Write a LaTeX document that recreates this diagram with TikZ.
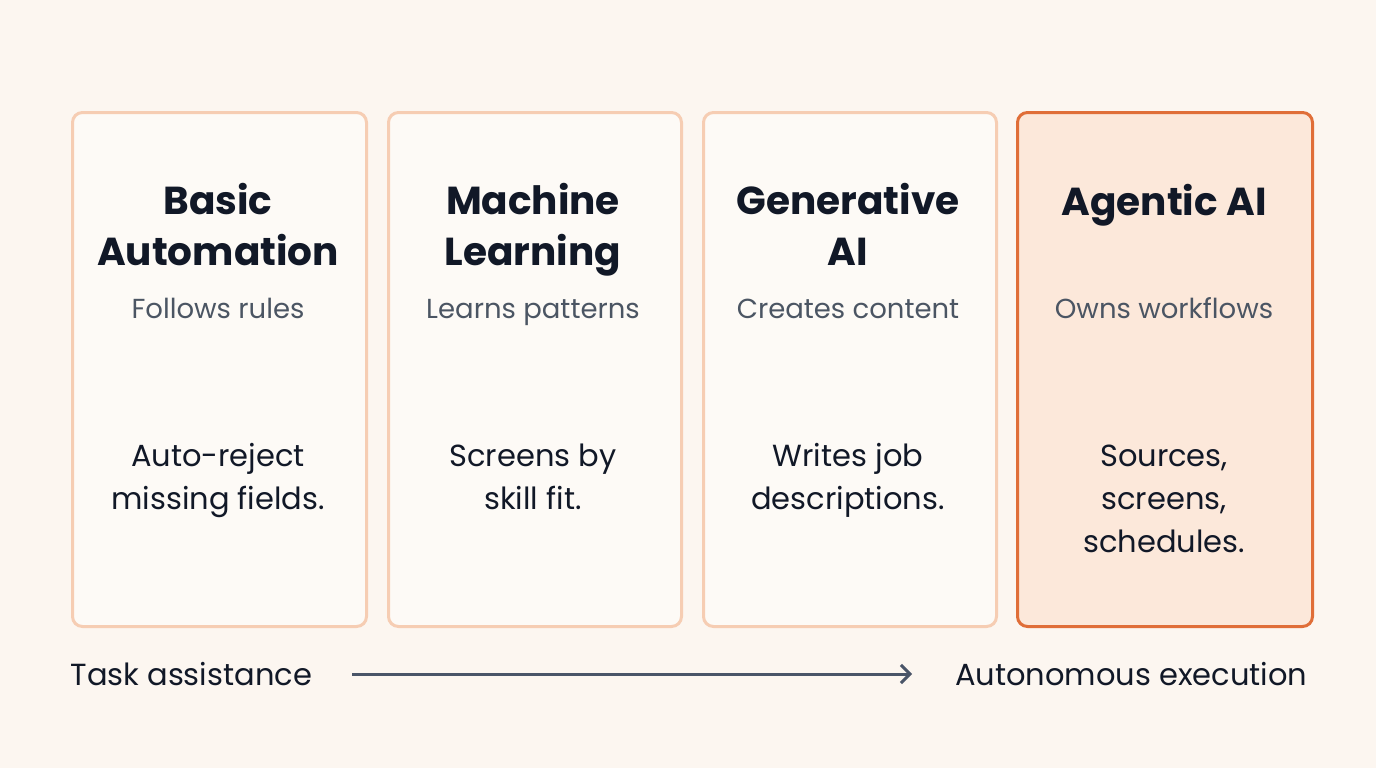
\documentclass[tikz,border=0pt]{standalone}
\usepackage{fontspec}
\setmainfont{Poppins}
\usetikzlibrary{arrows.meta}
\definecolor{bg}{HTML}{FCF6F0}
\definecolor{bd}{HTML}{F6CDB3}
\definecolor{bdo}{HTML}{E06E38}
\definecolor{fo}{HTML}{FCE8DA}
\definecolor{ink}{HTML}{111827}
\definecolor{sub}{HTML}{4B5563}
\definecolor{arr}{HTML}{4A5568}
\begin{document}
\begin{tikzpicture}[x=1pt,y=-1pt,
 box/.style={draw=bd,line width=3pt,rounded corners=10pt,fill=bg!60!white},
 hot/.style={draw=bdo,line width=3pt,rounded corners=10pt,fill=fo},
 ttl/.style={font=\fontsize{39}{51}\selectfont\bfseries,text=ink,align=center,anchor=base},
 sb/.style={font=\fontsize{27.5}{30}\selectfont,text=sub,anchor=base},
 bt/.style={font=\fontsize{30.5}{43}\selectfont,text=ink,align=center,anchor=base},
 lb/.style={font=\fontsize{30.5}{34}\selectfont,text=ink}]
\fill[bg] (0,0) rectangle (1376,768);
\useasboundingbox (0,0) rectangle (1376,768);
\foreach \i/\a/\b in {1/71/365,2/387/680,3/702/995}{
 \node[box,minimum width=\b-\a,minimum height=514,anchor=north west] (b\i) at (\a,111) {};}
\node[hot,minimum width=295,minimum height=514,anchor=north west] (b4) at (1016,111) {};
\node[ttl] (t1) at (218,265) {Basic\\Automation};
\node[ttl] (t2) at (533,265) {Machine\\Learning};
\node[ttl] (t3) at (848,265) {Generative\\AI};
\node[ttl] (t4) at (1164,215) {Agentic AI};
\node[sb] (s1) at (218,318) {Follows rules};
\node[sb] (s2) at (533,318) {Learns patterns};
\node[sb] (s3) at (848,318) {Creates content};
\node[sb] (s4) at (1164,318) {Owns workflows};
\node[bt] (p1) at (218,509) {Auto-reject\\missing fields.};
\node[bt] (p2) at (533,509) {Screens by\\skill fit.};
\node[bt] (p3) at (848,509) {Writes job\\descriptions.};
\node[bt] (p4) at (1164,552) {Sources,\\screens,\\schedules.};
\node[lb,anchor=west] (l) at (67,674) {Task assistance};
\node[lb,anchor=east] (r) at (1311,674) {Autonomous execution};
\coordinate (a1) at (352,674);
\coordinate (a2) at (912,674);
\draw[arr,line width=3pt,-{Straight Barb[length=9pt,width=18pt]}] (a1) -- (a2);
\end{tikzpicture}
\end{document}
